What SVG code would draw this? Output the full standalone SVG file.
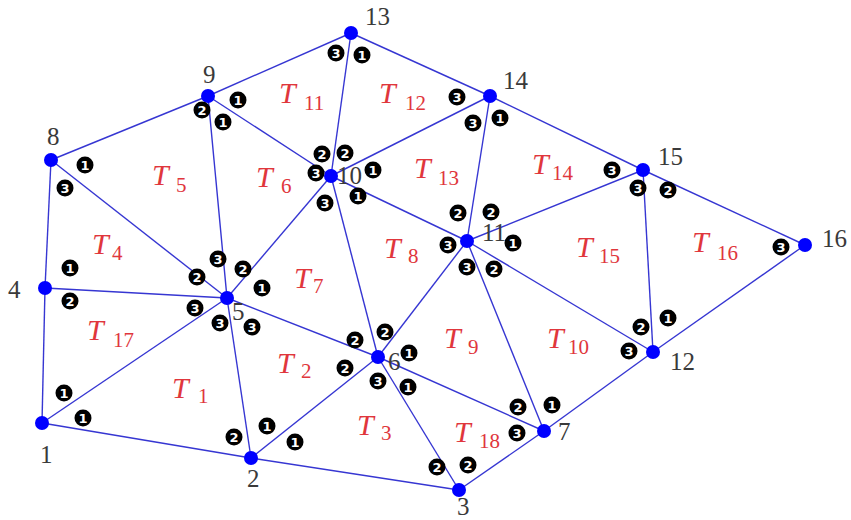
<svg xmlns="http://www.w3.org/2000/svg" width="851" height="520" viewBox="0 0 851 520">
<style>
.e{stroke:#3636d2;stroke-width:1.4;fill:none}
.n circle{fill:#0000ff}
.n text{font-family:"Liberation Serif",serif;font-size:25px;fill:#3a3a3a}
.t{font-family:"Liberation Serif",serif;font-size:30px;font-style:italic;fill:#e0363c}
.t tspan{font-size:21px;font-style:normal}
.c circle{fill:#000}
.c text{font-family:"DejaVu Sans",sans-serif;font-weight:bold;font-size:13px;fill:#fff;text-anchor:middle}
</style>
<defs>
<circle id="b" r="8.5"/>
</defs>
<rect width="851" height="520" fill="#fff"/>
<g id="edges">
<line class="e" x1="42" y1="423" x2="251" y2="458"/>
<line class="e" x1="42" y1="423" x2="45" y2="288"/>
<line class="e" x1="42" y1="423" x2="227" y2="298"/>
<line class="e" x1="251" y1="458" x2="227" y2="298"/>
<line class="e" x1="251" y1="458" x2="378" y2="357"/>
<line class="e" x1="251" y1="458" x2="459" y2="490"/>
<line class="e" x1="459" y1="490" x2="378" y2="357"/>
<line class="e" x1="459" y1="490" x2="544" y2="431"/>
<line class="e" x1="45" y1="288" x2="51" y2="160"/>
<line class="e" x1="45" y1="288" x2="227" y2="298"/>
<line class="e" x1="227" y1="298" x2="51" y2="160"/>
<line class="e" x1="227" y1="298" x2="208" y2="96"/>
<line class="e" x1="227" y1="298" x2="331" y2="176"/>
<line class="e" x1="227" y1="298" x2="378" y2="357"/>
<line class="e" x1="378" y1="357" x2="331" y2="176"/>
<line class="e" x1="378" y1="357" x2="467" y2="241"/>
<line class="e" x1="378" y1="357" x2="544" y2="431"/>
<line class="e" x1="544" y1="431" x2="467" y2="241"/>
<line class="e" x1="544" y1="431" x2="653" y2="352"/>
<line class="e" x1="51" y1="160" x2="208" y2="96"/>
<line class="e" x1="208" y1="96" x2="351" y2="33"/>
<line class="e" x1="208" y1="96" x2="331" y2="176"/>
<line class="e" x1="331" y1="176" x2="351" y2="33"/>
<line class="e" x1="331" y1="176" x2="490" y2="96"/>
<line class="e" x1="331" y1="176" x2="467" y2="241"/>
<line class="e" x1="467" y1="241" x2="490" y2="96"/>
<line class="e" x1="467" y1="241" x2="643" y2="170"/>
<line class="e" x1="467" y1="241" x2="653" y2="352"/>
<line class="e" x1="653" y1="352" x2="643" y2="170"/>
<line class="e" x1="653" y1="352" x2="805" y2="245"/>
<line class="e" x1="351" y1="33" x2="490" y2="96"/>
<line class="e" x1="490" y1="96" x2="643" y2="170"/>
<line class="e" x1="643" y1="170" x2="805" y2="245"/>
</g>
<g id="node1" class="n"><circle cx="42" cy="423" r="7"/><text x="40" y="463">1</text></g>
<g id="node2" class="n"><circle cx="251" cy="458" r="7"/><text x="247" y="487">2</text></g>
<g id="node3" class="n"><circle cx="459" cy="490" r="7"/><text x="457" y="515">3</text></g>
<g id="node4" class="n"><circle cx="45" cy="288" r="7"/><text x="8" y="298">4</text></g>
<g id="node5" class="n"><circle cx="227" cy="298" r="7"/><text x="232" y="320">5</text></g>
<g id="node6" class="n"><circle cx="378" cy="357" r="7"/><text x="388" y="370">6</text></g>
<g id="node7" class="n"><circle cx="544" cy="431" r="7"/><text x="558" y="440">7</text></g>
<g id="node8" class="n"><circle cx="51" cy="160" r="7"/><text x="47" y="145">8</text></g>
<g id="node9" class="n"><circle cx="208" cy="96" r="7"/><text x="203" y="83">9</text></g>
<g id="node10" class="n"><circle cx="331" cy="176" r="7"/><text x="337" y="184">10</text></g>
<g id="node11" class="n"><circle cx="467" cy="241" r="7"/><text x="482" y="241">11</text></g>
<g id="node12" class="n"><circle cx="653" cy="352" r="7"/><text x="670" y="370">12</text></g>
<g id="node13" class="n"><circle cx="351" cy="33" r="7"/><text x="365" y="25">13</text></g>
<g id="node14" class="n"><circle cx="490" cy="96" r="7"/><text x="503" y="89">14</text></g>
<g id="node15" class="n"><circle cx="643" cy="170" r="7"/><text x="658" y="165">15</text></g>
<g id="node16" class="n"><circle cx="805" cy="245" r="7"/><text x="822" y="247">16</text></g>
<g id="T1"><text class="t" x="172" y="398">T<tspan x="198" y="403">1</tspan></text>
<g class="c"><use href="#b" x="83" y="418"/><text x="83" y="422.5">1</text><use href="#b" x="234" y="437"/><text x="234" y="441.5">2</text><use href="#b" x="220" y="323"/><text x="220" y="327.5">3</text></g></g>
<g id="T2"><text class="t" x="277" y="373">T<tspan x="301" y="378">2</tspan></text>
<g class="c"><use href="#b" x="267" y="426"/><text x="267" y="430.5">1</text><use href="#b" x="345" y="368"/><text x="345" y="372.5">2</text><use href="#b" x="252" y="327"/><text x="252" y="331.5">3</text></g></g>
<g id="T3"><text class="t" x="357" y="435">T<tspan x="381" y="440">3</tspan></text>
<g class="c"><use href="#b" x="295" y="442"/><text x="295" y="446.5">1</text><use href="#b" x="437" y="467"/><text x="437" y="471.5">2</text><use href="#b" x="378" y="381"/><text x="378" y="385.5">3</text></g></g>
<g id="T4"><text class="t" x="92" y="254">T<tspan x="112" y="260">4</tspan></text>
<g class="c"><use href="#b" x="70" y="268"/><text x="70" y="272.5">1</text><use href="#b" x="197" y="277"/><text x="197" y="281.5">2</text><use href="#b" x="65" y="188"/><text x="65" y="192.5">3</text></g></g>
<g id="T5"><text class="t" x="152" y="185">T<tspan x="176" y="192">5</tspan></text>
<g class="c"><use href="#b" x="85" y="165"/><text x="85" y="169.5">1</text><use href="#b" x="202" y="110"/><text x="202" y="114.5">2</text><use href="#b" x="218" y="259"/><text x="218" y="263.5">3</text></g></g>
<g id="T6"><text class="t" x="256" y="187">T<tspan x="281" y="193">6</tspan></text>
<g class="c"><use href="#b" x="223" y="122"/><text x="223" y="126.5">1</text><use href="#b" x="243" y="269"/><text x="243" y="273.5">2</text><use href="#b" x="316" y="173"/><text x="316" y="177.5">3</text></g></g>
<g id="T7"><text class="t" x="294" y="288">T<tspan x="313" y="293">7</tspan></text>
<g class="c"><use href="#b" x="262" y="288"/><text x="262" y="292.5">1</text><use href="#b" x="355" y="340"/><text x="355" y="344.5">2</text><use href="#b" x="325" y="203"/><text x="325" y="207.5">3</text></g></g>
<g id="T8"><text class="t" x="384" y="258">T<tspan x="408" y="263">8</tspan></text>
<g class="c"><use href="#b" x="358" y="196"/><text x="358" y="200.5">1</text><use href="#b" x="385" y="332"/><text x="385" y="336.5">2</text><use href="#b" x="448" y="245"/><text x="448" y="249.5">3</text></g></g>
<g id="T9"><text class="t" x="444" y="348">T<tspan x="468" y="354">9</tspan></text>
<g class="c"><use href="#b" x="409" y="353"/><text x="409" y="357.5">1</text><use href="#b" x="518" y="407"/><text x="518" y="411.5">2</text><use href="#b" x="467" y="267"/><text x="467" y="271.5">3</text></g></g>
<g id="T10"><text class="t" x="547" y="348">T<tspan x="568" y="354">10</tspan></text>
<g class="c"><use href="#b" x="552" y="405"/><text x="552" y="409.5">1</text><use href="#b" x="494" y="269"/><text x="494" y="273.5">2</text><use href="#b" x="629" y="351"/><text x="629" y="355.5">3</text></g></g>
<g id="T11"><text class="t" x="279" y="103">T<tspan x="304" y="110">11</tspan></text>
<g class="c"><use href="#b" x="238" y="100"/><text x="238" y="104.5">1</text><use href="#b" x="322" y="154"/><text x="322" y="158.5">2</text><use href="#b" x="336" y="53"/><text x="336" y="57.5">3</text></g></g>
<g id="T12"><text class="t" x="379" y="103">T<tspan x="405" y="110">12</tspan></text>
<g class="c"><use href="#b" x="362" y="55"/><text x="362" y="59.5">1</text><use href="#b" x="345" y="153"/><text x="345" y="157.5">2</text><use href="#b" x="457" y="97"/><text x="457" y="101.5">3</text></g></g>
<g id="T13"><text class="t" x="414" y="178">T<tspan x="438" y="185">13</tspan></text>
<g class="c"><use href="#b" x="373" y="170"/><text x="373" y="174.5">1</text><use href="#b" x="458" y="213"/><text x="458" y="217.5">2</text><use href="#b" x="473" y="123"/><text x="473" y="127.5">3</text></g></g>
<g id="T14"><text class="t" x="532" y="174">T<tspan x="552" y="180">14</tspan></text>
<g class="c"><use href="#b" x="500" y="118"/><text x="500" y="122.5">1</text><use href="#b" x="491" y="212"/><text x="491" y="216.5">2</text><use href="#b" x="612" y="170"/><text x="612" y="174.5">3</text></g></g>
<g id="T15"><text class="t" x="576" y="257">T<tspan x="599" y="263">15</tspan></text>
<g class="c"><use href="#b" x="513" y="243"/><text x="513" y="247.5">1</text><use href="#b" x="641" y="327"/><text x="641" y="331.5">2</text><use href="#b" x="638" y="188"/><text x="638" y="192.5">3</text></g></g>
<g id="T16"><text class="t" x="692" y="252">T<tspan x="717" y="260">16</tspan></text>
<g class="c"><use href="#b" x="668" y="318"/><text x="668" y="322.5">1</text><use href="#b" x="668" y="190"/><text x="668" y="194.5">2</text><use href="#b" x="781" y="247"/><text x="781" y="251.5">3</text></g></g>
<g id="T17"><text class="t" x="87" y="340">T<tspan x="113" y="347">17</tspan></text>
<g class="c"><use href="#b" x="64" y="393"/><text x="64" y="397.5">1</text><use href="#b" x="70" y="301"/><text x="70" y="305.5">2</text><use href="#b" x="195" y="308"/><text x="195" y="312.5">3</text></g></g>
<g id="T18"><text class="t" x="454" y="442">T<tspan x="479" y="448">18</tspan></text>
<g class="c"><use href="#b" x="408" y="387"/><text x="408" y="391.5">1</text><use href="#b" x="468" y="465"/><text x="468" y="469.5">2</text><use href="#b" x="517" y="433"/><text x="517" y="437.5">3</text></g></g>
</svg>
